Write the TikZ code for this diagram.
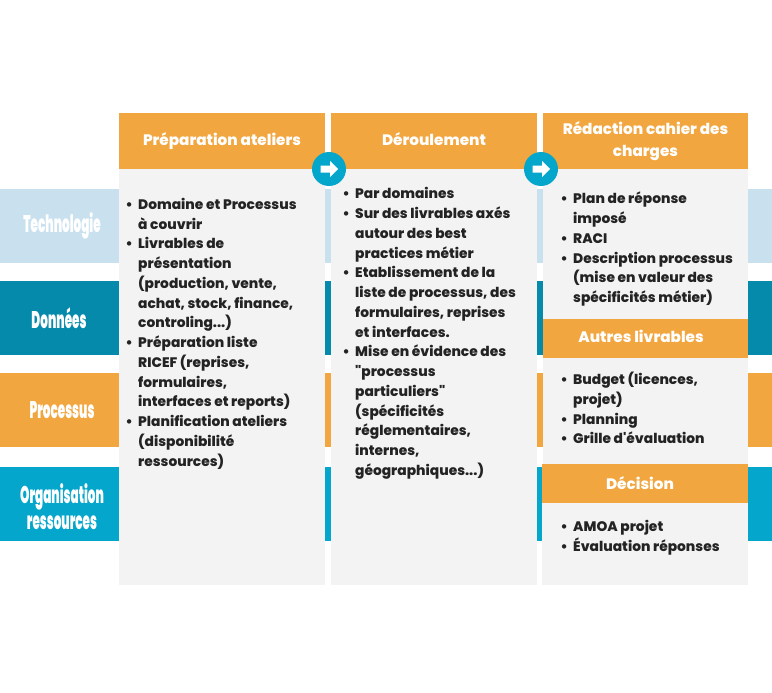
\documentclass[tikz,border=0pt]{standalone}
\usepackage{fontspec}
\newfontfamily\bodyfont{Poppins ExtraBold}
\newfontfamily\condfont{Poppins Black}[FakeStretch=0.5]
\definecolor{orangeH}{HTML}{F2A63F}
\definecolor{greyP}{HTML}{F3F3F3}
\definecolor{bandA}{HTML}{C9E1EF}
\definecolor{bandB}{HTML}{068AAB}
\definecolor{bandC}{HTML}{F2A63F}
\definecolor{bandD}{HTML}{05A6CC}
\definecolor{inkT}{HTML}{232323}
\newcommand{\itm}{\llap{\textbullet\hspace{5.5pt}}}
\tikzset{
  x=1pt,y=-1pt,
  band/.style={minimum width=772pt,minimum height=74pt,inner sep=0pt,outer sep=0pt,anchor=north west},
  bandlabel/.style={font=\condfont\fontsize{24}{25.5}\selectfont,text=white,align=center,inner sep=0pt},
  panel/.style={fill=greyP,minimum width=#1,inner sep=0pt,outer sep=0pt,anchor=north west},
  head/.style={fill=orangeH,text=white,font=\bodyfont\fontsize{15.2}{22}\selectfont,align=center,inner sep=0pt,outer sep=0pt,anchor=north west},
  body/.style={text=inkT,font=\bodyfont\fontsize{13.8}{19.75}\selectfont,align=left,inner sep=0pt,anchor=north west},
  disc/.style={circle,fill=bandD,minimum size=34pt,inner sep=0pt},
  arrowin/.style={fill=white}
}
\begin{document}
\begin{tikzpicture}
\useasboundingbox (0,0) rectangle (772,693);
\fill[white] (0,0) rectangle (772,693);
% bands
\node[band,fill=bandA] (b1) at (0,189) {};
\node[band,fill=bandB] (b2) at (0,281) {};
\node[band,fill=bandC] (b3) at (0,373) {};
\node[band,fill=bandD] (b4) at (0,467) {};
\node[bandlabel] (l1) at (62,226) {Technologie};
\node[bandlabel] (l2) at (59,318) {Données};
\node[bandlabel] (l3) at (62,410) {Processus};
\node[bandlabel] (l4) at (62,506.5) {Organisation\\ressources};
% panels
\node[panel=206pt,minimum height=472pt] (p1) at (119,113) {};
\node[panel=206pt,minimum height=472pt] (p2) at (331,113) {};
\node[panel=205pt,minimum height=472pt] (p3) at (543,113) {};
\fill[greyP] (541.5,503) rectangle (543,585);
% headers
\node[head,minimum width=206pt,minimum height=56pt] (h1) at (119,113) {Préparation ateliers};
\node[head,minimum width=206pt,minimum height=56pt] (h2) at (331,113) {Déroulement\vphantom{p}};
\node[head,minimum width=205pt,minimum height=56pt] (h3) at (543,113) {Rédaction cahier des\\charges};
\node[head,minimum width=205pt,minimum height=39pt] (h4) at (543,319) {Autres livrables\hspace*{9pt}\vphantom{p}};
\node[head,minimum width=206.5pt,minimum height=39pt] (h5) at (541.5,464) {Décision\hspace*{9.5pt}};
% bodies
\node[body] (t1) at (138,198) {\itm Domaine et Processus\\à couvrir\\\itm Livrables de\\présentation\\(production, vente,\\achat, stock, finance,\\controling...)\\\itm Préparation liste\\RICEF (reprises,\\formulaires,\\interfaces et reports)\\\itm Planification ateliers\\(disponibilité\\ressources)};
\node[body] (t2) at (355,187.5) {\itm Par domaines\\\itm Sur des livrables axés\\autour des best\\practices métier\\\itm Etablissement de la\\liste de processus, des\\formulaires, reprises\\et interfaces.\\\itm Mise en évidence des\\"processus\\particuliers"\\(spécificités\\réglementaires,\\internes,\\géographiques...)};
\node[body] (t3) at (573,192) {\itm Plan de réponse\\imposé\\\itm RACI\\\itm Description processus\\(mise en valeur des\\spécificités métier)};
\node[body] (t4) at (573,372) {\itm Budget (licences,\\projet)\\\itm Planning\\\itm Grille d'évaluation};
\node[body] (t5) at (573,520.5) {\itm AMOA projet\\\itm Évaluation réponses};
% discs
\node[disc] (d1) at (329,169) {};
\node[disc] (d2) at (541,169) {};
\foreach \d in {d1,d2}
  \fill[arrowin,shift={(\d)}] (-8.5,-3.5) -- (1,-3.5) -- (1,-8) -- (9,0) -- (1,8) -- (1,3.5) -- (-8.5,3.5) -- cycle;
\end{tikzpicture}
\end{document}
